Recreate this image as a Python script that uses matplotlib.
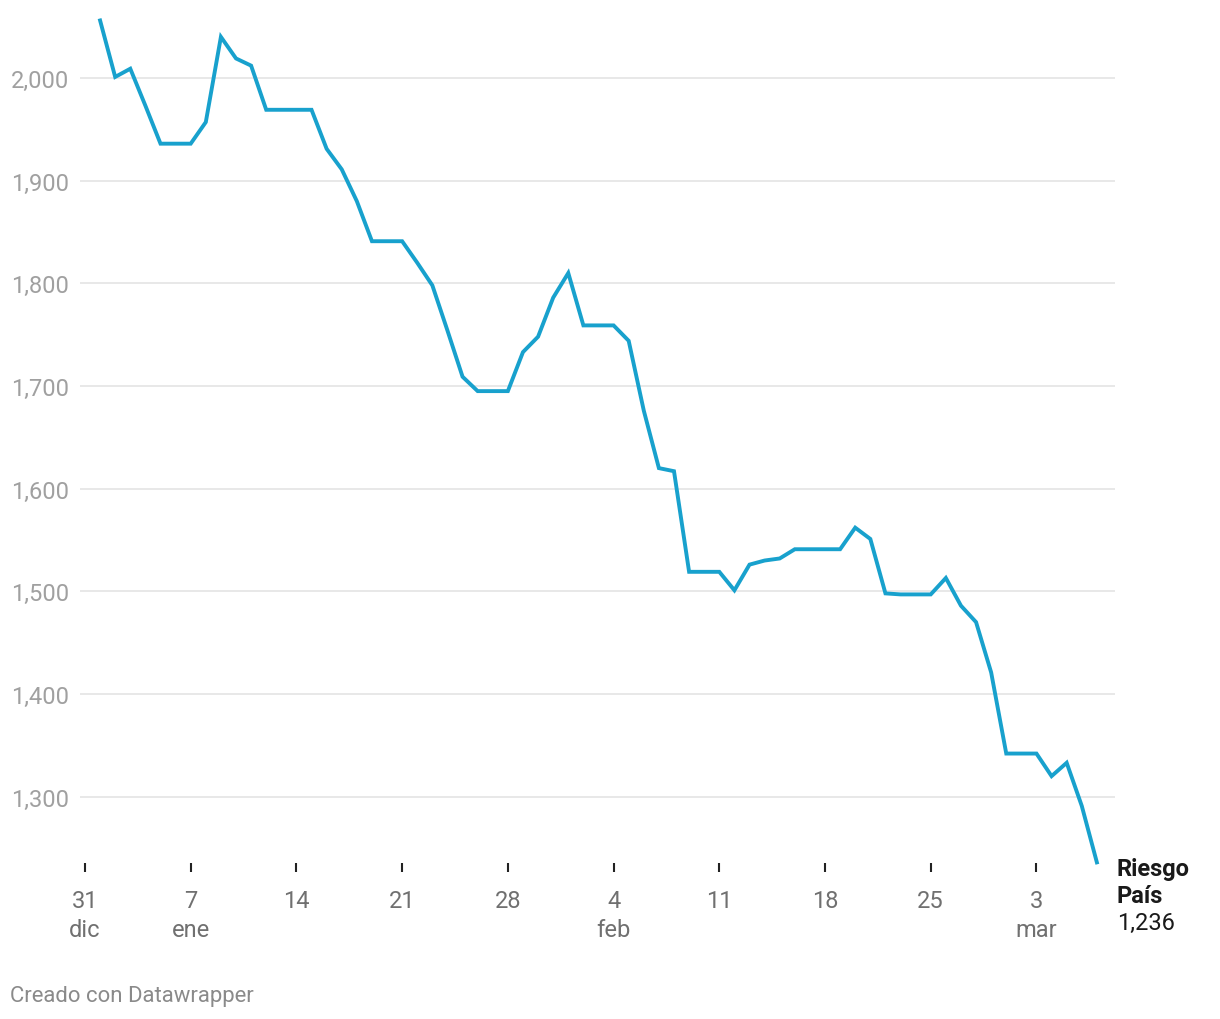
import matplotlib
matplotlib.use("Agg")
import matplotlib.pyplot as plt
import pandas as pd

# daily values, 1 ene .. 7 mar 2024
dates = pd.date_range("2024-01-01", "2024-03-07", freq="D")
riesgo = [
    2056, 2001, 2009, 1973, 1936, 1936, 1936,   # 1-7 ene
    1957, 2040, 2019, 2012, 1969, 1969, 1969,   # 8-14
    1969, 1931, 1911, 1880, 1841, 1841, 1841,   # 15-21
    1820, 1798, 1754, 1709, 1695, 1695, 1695,   # 22-28
    1733, 1748, 1786, 1810, 1759, 1759, 1759,   # 29 ene - 4 feb
    1744, 1676, 1620, 1617, 1519, 1519, 1519,   # 5-11 feb
    1501, 1526, 1530, 1532, 1541, 1541, 1541,   # 12-18
    1541, 1562, 1551, 1498, 1497, 1497, 1497,   # 19-25
    1513, 1486, 1470, 1421, 1342, 1342, 1342,   # 26 feb - 3 mar
    1320, 1333, 1291, 1236,                     # 4-7 mar
]
tick_dates = pd.to_datetime([
    "2023-12-31", "2024-01-07", "2024-01-14", "2024-01-21", "2024-01-28",
    "2024-02-04", "2024-02-11", "2024-02-18", "2024-02-25", "2024-03-03",
])
tick_labels = ["31\ndic", "7\nene", "14", "21", "28", "4\nfeb", "11", "18", "25", "3\nmar"]
y_ticks = [1300, 1400, 1500, 1600, 1700, 1800, 1900, 2000]
series_name = "Riesgo País"
last_label = "1,236"

plt.rcParams["font.family"] = ["Roboto", "DejaVu Sans"]

W, H = 1220, 1020
fig = plt.figure(figsize=(W / 100, H / 100), dpi=100)
ax = fig.add_axes([80 / W, 1 - 864 / H, (1115 - 80) / W, (864 - 15) / H])

ax.plot(dates, riesgo, color="#18a1cd", linewidth=2.8, solid_joinstyle="miter",
        clip_on=False, zorder=3)

start = tick_dates[0]
ax.set_xlim(start - pd.Timedelta(days=0.33), start + pd.Timedelta(days=68.2))
ax.set_ylim(1235.4, 2062.3)

ax.set_yticks(y_ticks)
ax.set_yticklabels([f"{v:,}" for v in y_ticks])
ax.yaxis.grid(True, color="#e2e2e2", linewidth=1.1)
ax.set_axisbelow(True)
ax.tick_params(axis="y", length=0, pad=8, labelsize=17, labelcolor="#a0a0a0")

ax.set_xticks(tick_dates)
ax.set_xticklabels(tick_labels, linespacing=1.36)
ax.tick_params(axis="x", length=6.5, width=1.5, color="#222222", pad=12,
               labelsize=17, labelcolor="#707070")

for s in ax.spines.values():
    s.set_visible(False)

# end label
name_lines = series_name.split(" ")
ax.annotate(name_lines[0], xy=(dates[-1], riesgo[-1]), xytext=(14.4, -9.4),
            textcoords="offset points", va="baseline", ha="left",
            fontsize=17, fontweight="bold", color="#1a1a1a", annotation_clip=False)
ax.annotate(name_lines[1], xy=(dates[-1], riesgo[-1]), xytext=(14.4, -28.8),
            textcoords="offset points", va="baseline", ha="left",
            fontsize=17, fontweight="bold", color="#1a1a1a", annotation_clip=False)
ax.annotate(last_label, xy=(dates[-1], riesgo[-1]), xytext=(14.4, -48.2),
            textcoords="offset points", va="baseline", ha="left",
            fontsize=17, color="#1a1a1a", annotation_clip=False)

fig.text(10 / W, 1 - 997 / H, "Creado con Datawrapper", fontsize=15.9,
         color="#8a8a8a", va="center", ha="left")

fig.savefig("out.png", dpi=100, facecolor="white")
